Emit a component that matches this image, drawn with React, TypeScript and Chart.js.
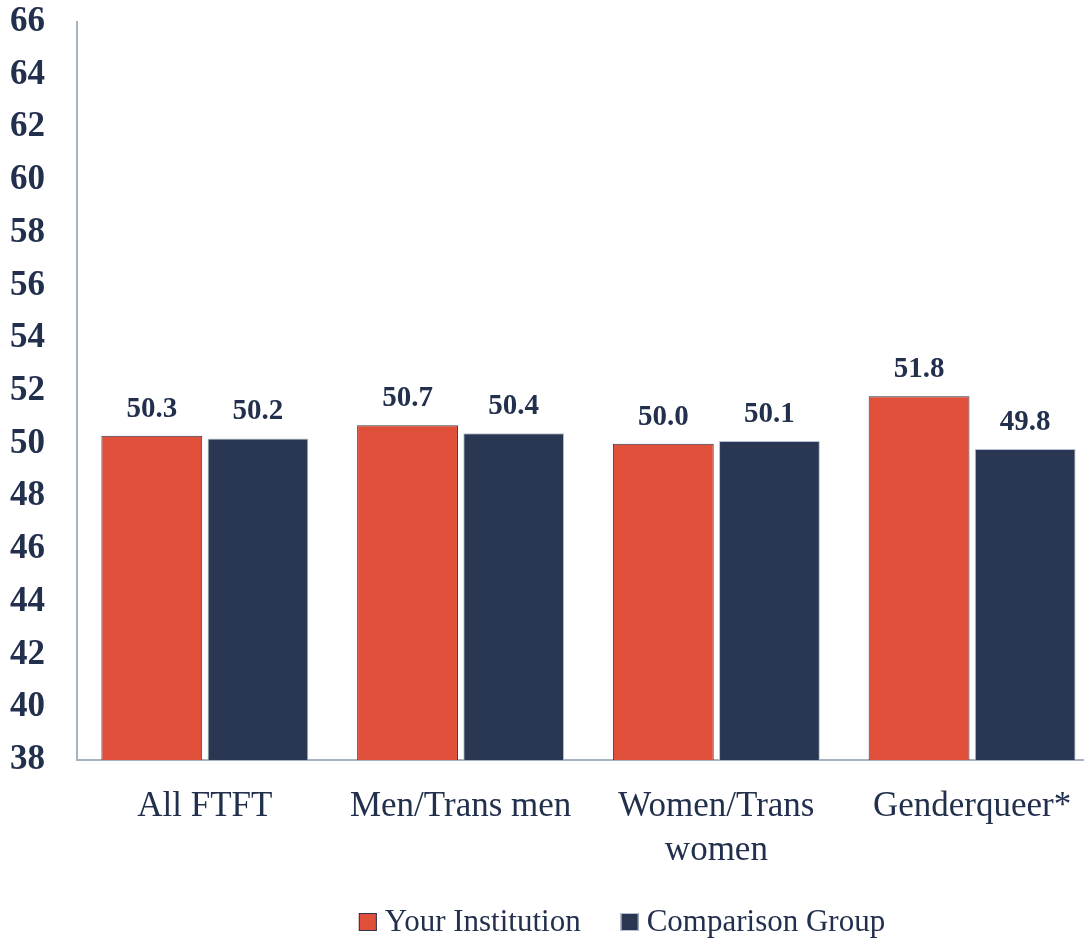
import React, { useEffect, useRef } from "react";
import { Chart, registerables } from "chart.js";

Chart.register(...registerables);

const categories: (string | string[])[] = ["All FTFT", "Men/Trans men", ["Women/Trans", "women"], "Genderqueer*"];
const yourInstitution = [50.3, 50.7, 50.0, 51.8];
const comparisonGroup = [50.2, 50.4, 50.1, 49.8];
const seriesNames = ["Your Institution", "Comparison Group"];
const yMin = 38;
const yMax = 66;
const yStep = 2;

const RED = "#E04F39";
const NAVY = "#2A3752";
const TEXT = "#22304D";
const AXIS = "#A7B1BF";
const FONT = "'Liberation Serif', 'Times New Roman', serif";

const dataLabelPlugin = {
  id: "dataLabels",
  afterDatasetsDraw(chart: any) {
    const ctx = chart.ctx;
    ctx.save();
    ctx.font = `bold 29px ${FONT}`;
    ctx.fillStyle = TEXT;
    ctx.textAlign = "center";
    ctx.textBaseline = "alphabetic";
    chart.data.datasets.forEach((ds: any, di: number) => {
      const meta = chart.getDatasetMeta(di);
      meta.data.forEach((bar: any, i: number) => {
        const v = ds.data[i];
        ctx.fillText(v.toFixed(1), bar.x, bar.y - 19);
      });
    });
    ctx.restore();
  },
};

const legendPlugin = {
  id: "customLegend",
  afterDraw(chart: any) {
    const ctx = chart.ctx;
    const box = 18;
    const gapBoxText = 8;
    const gapItems = 40;
    const centerX = 622;
    const centerY = 922;
    ctx.save();
    ctx.font = `31px ${FONT}`;
    const items = chart.data.datasets.map((ds: any) => ({
      label: ds.label,
      fill: ds.backgroundColor,
      stroke: ds.borderColor,
      w: ctx.measureText(ds.label).width,
    }));
    let total = 0;
    items.forEach((it: any, i: number) => {
      total += box + gapBoxText + it.w + (i < items.length - 1 ? gapItems : 0);
    });
    let x = centerX - total / 2;
    ctx.textBaseline = "middle";
    ctx.textAlign = "left";
    items.forEach((it: any) => {
      ctx.fillStyle = it.fill;
      ctx.fillRect(x, centerY - box / 2, box, box);
      ctx.strokeStyle = it.stroke;
      ctx.lineWidth = 1;
      ctx.strokeRect(x + 0.5, centerY - box / 2 + 0.5, box - 1, box - 1);
      x += box + gapBoxText;
      ctx.fillStyle = TEXT;
      ctx.fillText(it.label, x, centerY + 1);
      x += it.w + gapItems;
    });
    ctx.restore();
  },
};

export default function App() {
  const ref = useRef<HTMLCanvasElement | null>(null);
  useEffect(() => {
    if (!ref.current) return;
    const chart = new Chart(ref.current, {
      type: "bar",
      data: {
        labels: categories,
        datasets: [
          {
            label: seriesNames[0],
            data: yourInstitution,
            backgroundColor: RED,
            borderColor: "#2E3550",
            borderWidth: 1,
          },
          {
            label: seriesNames[1],
            data: comparisonGroup,
            backgroundColor: NAVY,
            borderColor: "#B8C2D2",
            borderWidth: 1,
          },
        ],
      },
      options: {
        responsive: false,
        animation: false,
        devicePixelRatio: 1,
        layout: { padding: { top: 22, right: 0, bottom: 71, left: 0 } },
        datasets: { bar: { categoryPercentage: 0.83, barPercentage: 0.95 } },
        plugins: {
          tooltip: { enabled: false },
          legend: { display: false },
        },
        scales: {
          x: {
            grid: { display: false, drawTicks: false },
            border: { display: true, color: AXIS, width: 2 },
            ticks: {
              color: TEXT,
              padding: 25,
              font: { family: FONT, size: 35, lineHeight: 1.25 },
              maxRotation: 0,
              autoSkip: false,
            },
            afterFit(scale: any) {
              scale.height = 108;
              scale.paddingLeft = 0;
              scale.paddingRight = 0;
            },
          },
          y: {
            min: yMin,
            max: yMax,
            grid: { display: false, drawTicks: false },
            border: { display: true, color: AXIS, width: 2 },
            ticks: {
              stepSize: yStep,
              color: TEXT,
              padding: 32,
              font: { family: FONT, size: 35, weight: "bold" },
            },
            afterFit(scale: any) {
              scale.width = 77;
              scale.paddingTop = 0;
              scale.paddingBottom = 0;
            },
          },
        },
      },
      plugins: [dataLabelPlugin, legendPlugin],
    });
    return () => chart.destroy();
  }, []);
  return (
    <div style={{ position: "fixed", left: 0, top: 0, width: 1084, height: 939, overflow: "hidden", background: "#fff" }}>
      <canvas ref={ref} width={1100} height={939} style={{ display: "block" }} />
    </div>
  );
}
